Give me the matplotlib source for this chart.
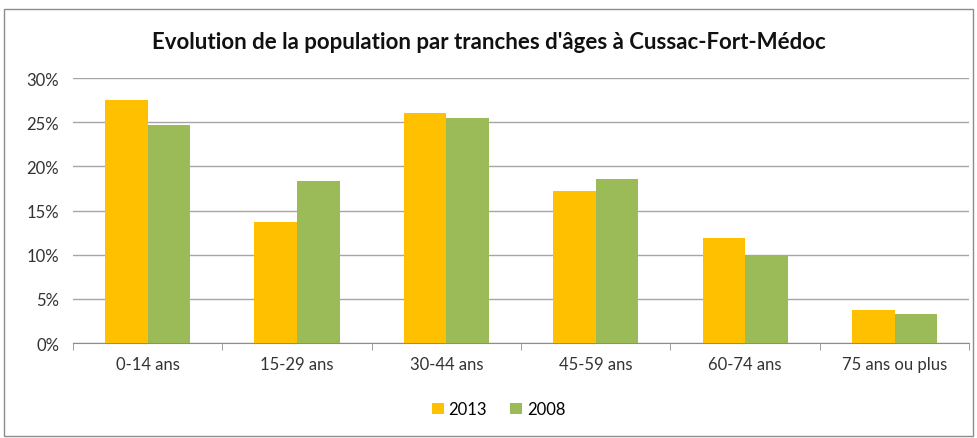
import numpy as np
import matplotlib.pyplot as plt
from matplotlib.patches import Rectangle
from matplotlib.ticker import FuncFormatter

categories = ["0-14 ans", "15-29 ans", "30-44 ans", "45-59 ans", "60-74 ans", "75 ans ou plus"]
pop_2013 = [27.5, 13.7, 26.0, 17.2, 11.9, 3.7]
pop_2008 = [24.7, 18.3, 25.5, 18.6, 9.8, 3.3]

plt.rcParams['font.family'] = ['Lato', 'DejaVu Sans']

fig = plt.figure(figsize=(9.78, 4.39), dpi=100)
ax = fig.add_axes([0.0746, 0.2164, 0.9164, 0.6036])

x = np.arange(len(categories))
w = 0.285
ax.bar(x - w / 2, pop_2013, w, color="#FFC000", label="2013", zorder=3)
ax.bar(x + w / 2, pop_2008, w, color="#9BBB59", label="2008", zorder=3)

ax.set_xlim(-0.5, len(categories) - 0.5)
ax.set_ylim(0, 30)
ax.set_yticks(np.arange(0, 31, 5))
ax.yaxis.set_major_formatter(FuncFormatter(lambda v, p: "%d%%" % v))
ax.grid(axis="y", color="#a6a6a6", linewidth=1, zorder=0)

ax.set_xticks(x)
ax.set_xticklabels(categories)
ax.set_xticks(np.arange(-0.5, len(categories)), minor=True)
ax.tick_params(axis="x", which="major", length=0, pad=9, labelsize=12, colors="#333333")
ax.tick_params(axis="x", which="minor", length=5, color="#8c8c8c", direction="out")
ax.tick_params(axis="y", length=0, pad=10, labelsize=12, colors="#333333")

for s in ["top", "right", "left"]:
    ax.spines[s].set_visible(False)
ax.spines["bottom"].set_color("#8c8c8c")

fig.text(0.5, 0.903, "Evolution de la population par tranches d'âges à Cussac-Fort-Médoc",
         ha="center", va="center", fontsize=16, fontweight="bold", color="#111111")

ax.legend(loc="center", bbox_to_anchor=(0.51, 0.065), bbox_transform=fig.transFigure,
          ncol=2, frameon=False, fontsize=12, handlelength=0.7, handleheight=0.7,
          handletextpad=0.3, columnspacing=1.4)

fig.patches.append(Rectangle((0.004, 0.005), 0.991, 0.972, transform=fig.transFigure,
                             fill=False, edgecolor="#8c8c8c", linewidth=1))

fig.savefig("out.png", dpi=100)
